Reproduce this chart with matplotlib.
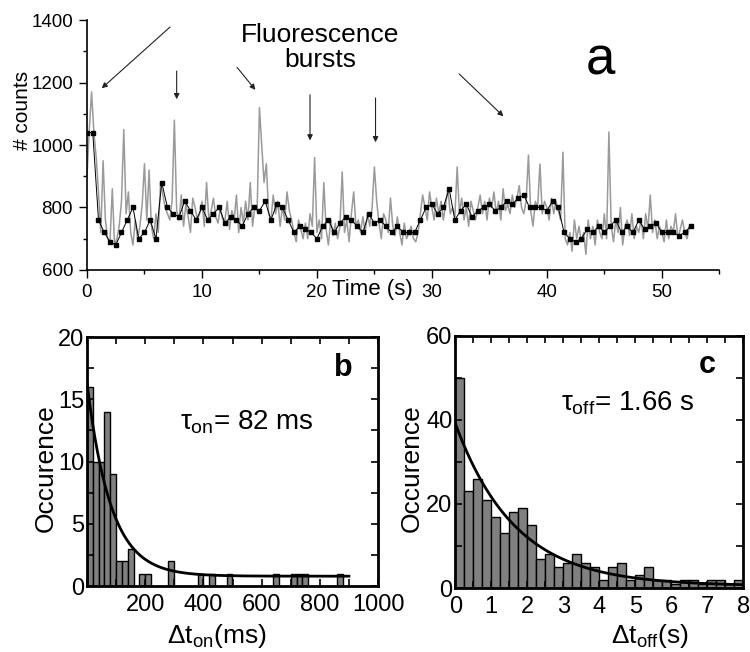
import numpy as np
import matplotlib
matplotlib.use('Agg')
import matplotlib.pyplot as plt
from matplotlib.ticker import MultipleLocator

plt.rcParams['font.family'] = ['Liberation Sans', 'DejaVu Sans']
plt.rcParams['mathtext.fontset'] = 'custom'
plt.rcParams['mathtext.rm'] = 'Liberation Sans'
plt.rcParams['mathtext.it'] = 'Liberation Sans'

# --- panel a: intensity trace (counts per bin) ---
trace_dt = 0.2
trace_gray = [
    900, 1050, 1170, 1040, 960, 850, 720, 950, 760, 700,
    690, 860, 680, 700, 740, 820, 1050, 780, 850, 720,
    680, 760, 700, 740, 810, 940, 760, 920, 740, 700,
    780, 720, 880, 840, 800, 780, 760, 820, 1080, 790,
    760, 840, 740, 810, 770, 720, 830, 800, 760, 780,
    820, 740, 880, 760, 790, 830, 770, 750, 800, 760,
    760, 820, 730, 790, 760, 840, 720, 800, 750, 820,
    760, 880, 740, 800, 790, 1120, 1000, 880, 940, 780,
    760, 840, 780, 820, 740, 800, 760, 850, 790, 760,
    720, 690, 760, 730, 700, 750, 700, 780, 740, 960,
    720, 760, 700, 880, 730, 680, 760, 710, 750, 700,
    740, 914, 720, 760, 690, 780, 850, 740, 760, 720,
    770, 720, 780, 740, 800, 930, 820, 750, 700, 780,
    760, 720, 830, 740, 710, 770, 720, 680, 750, 700,
    720, 740, 700, 690, 720, 780, 840, 800, 760, 850,
    800, 760, 830, 780, 820, 760, 810, 860, 780, 800,
    770, 930, 780, 830, 760, 800, 740, 820, 790, 760,
    800, 840, 780, 820, 760, 830, 800, 850, 780, 820,
    760, 860, 790, 810, 780, 840, 800, 830, 870, 800,
    780, 820, 968, 790, 740, 820, 800, 939, 780, 820,
    800, 760, 830, 780, 820, 790, 760, 977, 700, 680,
    720, 660, 760, 700, 740, 690, 720, 650, 760, 700,
    740, 680, 760, 720, 700, 780, 700, 1042, 740, 690,
    760, 720, 800, 680, 740, 760, 710, 780, 700, 740,
    720, 760, 700, 780, 730, 840, 720, 760, 700, 740,
    720, 690, 760, 700, 740, 720, 780, 700, 730, 760,
    720, 700, 740,
]
binned_dt = 0.5
trace_black = [
    1040, 1040, 760, 720, 690, 680, 720, 760, 800, 700,
    720, 760, 700, 880, 800, 780, 770, 820, 790, 760,
    800, 760, 780, 800, 750, 770, 760, 740, 780, 800,
    790, 820, 760, 810, 800, 760, 720, 740, 730, 720,
    700, 740, 760, 720, 750, 770, 760, 740, 720, 780,
    750, 760, 740, 720, 740, 720, 720, 720, 760, 800,
    810, 780, 800, 860, 760, 790, 810, 770, 790, 800,
    810, 790, 800, 820, 810, 830, 840, 800, 800, 800,
    790, 820, 800, 720, 700, 690, 700, 730, 720, 740,
    720, 740, 760, 720, 740, 720, 760, 730, 740, 750,
    720, 720, 720, 710, 720, 740,
]
# arrows: (tail x, tail y, head x, head y) in data units
burst_arrows = [
    (7.4, 1384, 1.1, 1176),
    (7.8, 1246, 7.8, 1138),
    (12.9, 1256, 14.8, 1170),
    (19.4, 1170, 19.4, 1006),
    (25.1, 1160, 25.1, 1000),
    (32.2, 1234, 36.4, 1086),
]

# --- panel b: on-time histogram ---
on_left = [0, 20, 40, 60, 80, 100, 120, 140, 180, 200, 280, 380, 420, 480, 640, 700, 720, 740, 860]
on_count = [16, 10, 10, 14, 9, 2, 2, 3, 1, 1, 2, 1, 1, 1, 1, 1, 1, 1, 1]
on_width = 20
tau_on, amp_on, base_on = 82.0, 15.5, 0.8

# --- panel c: off-time histogram ---
off_width = 0.25
off_count = [50, 23, 26, 21, 17, 13, 18, 19, 15, 7, 8, 5, 6, 8, 6, 5,
             2, 5, 6, 2, 3, 5, 2, 2, 1, 2, 2, 1, 2, 2, 1, 2]
tau_off, amp_off, base_off = 1.66, 38.7, 0.5

fig = plt.figure(figsize=(7.5, 6.52), dpi=100)

# ---------------- panel a ----------------
axa = fig.add_axes([0.116, 0.586, 0.843, 0.383])
t_gray = np.arange(len(trace_gray)) * trace_dt
t_black = np.arange(len(trace_black)) * binned_dt
axa.plot(t_gray, trace_gray, color='#9a9a9a', lw=1.1)
axa.plot(t_black, trace_black, color='black', lw=0.7, marker='s', ms=3.5)
axa.set_xlim(0, 55)
axa.set_ylim(600, 1400)
axa.spines['top'].set_visible(False)
axa.spines['right'].set_visible(False)
for s in ('left', 'bottom'):
    axa.spines[s].set_linewidth(1.2)
axa.xaxis.set_major_locator(MultipleLocator(10))
axa.xaxis.set_minor_locator(MultipleLocator(5))
axa.yaxis.set_major_locator(MultipleLocator(200))
axa.yaxis.set_minor_locator(MultipleLocator(100))
axa.tick_params(which='major', direction='out', length=6, width=1, labelsize=13.5, pad=4)
axa.tick_params(which='minor', direction='out', length=3, width=1)
for x0, y0, x1, y1 in burst_arrows:
    axa.annotate('', xy=(x1, y1), xytext=(x0, y0),
                 arrowprops=dict(arrowstyle='-|>', lw=0.8, color='#222222', mutation_scale=8))
axa.text(20.3, 1312, 'Fluorescence\nbursts', ha='center', va='center', fontsize=19, linespacing=1.05)
axa.text(44.7, 1272, 'a', ha='center', va='center', fontsize=38)
fig.text(332 / 750, 1 - 289 / 652, 'Time (s)', ha='left', va='center', fontsize=16)
fig.text(22 / 750, 1 - 110 / 652, '# counts', rotation=90, ha='center', va='center', fontsize=15)

# ---------------- panel b ----------------
axb = fig.add_axes([0.116, 0.101, 0.388, 0.382])
axb.bar(on_left, on_count, width=on_width, align='edge', color='#808080', edgecolor='black', lw=1.0)
xf = np.linspace(0, 900, 300)
axb.plot(xf, base_on + amp_on * np.exp(-xf / tau_on), color='black', lw=2)
axb.set_xlim(0, 1000)
axb.set_ylim(0, 20)
axb.set_xticks([200, 400, 600, 800, 1000])
axb.xaxis.set_minor_locator(MultipleLocator(100))
axb.yaxis.set_major_locator(MultipleLocator(5))
axb.yaxis.set_minor_locator(MultipleLocator(2.5))
axb.text(880, 17.5, 'b', ha='center', va='center', fontsize=22, fontweight='bold')
axb.text(320, 13.2, r'$\tau_{\mathrm{on}}$= 82 ms', ha='left', va='center', fontsize=20)
fig.text(217 / 750, 1 - 643 / 652, r'Δt$_{\mathrm{on}}$(ms)', ha='center', va='baseline', fontsize=19)
fig.text(46 / 750, 1 - 468 / 652, 'Occurence', rotation=90, ha='center', va='center', fontsize=19)

# ---------------- panel c ----------------
axc = fig.add_axes([0.607, 0.098, 0.384, 0.387])
off_left = np.arange(len(off_count)) * off_width
axc.bar(off_left, off_count, width=off_width, align='edge', color='#808080', edgecolor='black', lw=1.0)
xf = np.linspace(0, 8, 300)
axc.plot(xf, base_off + amp_off * np.exp(-xf / tau_off), color='black', lw=2)
axc.set_xlim(0, 8)
axc.set_ylim(0, 60)
axc.xaxis.set_major_locator(MultipleLocator(1))
axc.xaxis.set_minor_locator(MultipleLocator(0.5))
axc.yaxis.set_major_locator(MultipleLocator(20))
axc.yaxis.set_minor_locator(MultipleLocator(10))
axc.text(7.0, 53, 'c', ha='center', va='center', fontsize=22, fontweight='bold')
axc.text(2.95, 44, r'$\tau_{\mathrm{off}}$= 1.66 s', ha='left', va='center', fontsize=20)
fig.text(650 / 750, 1 - 643 / 652, r'Δt$_{\mathrm{off}}$(s)', ha='center', va='baseline', fontsize=19)
fig.text(412 / 750, 1 - 468 / 652, 'Occurence', rotation=90, ha='center', va='center', fontsize=19)

for ax in (axb, axc):
    for s in ax.spines.values():
        s.set_linewidth(2)
    ax.tick_params(which='both', direction='in', top=True, right=True, width=1.2)
    ax.tick_params(which='major', length=5, labelsize=17, pad=2)
    ax.tick_params(which='minor', length=5)
    ax.tick_params(axis='x', pad=6)

fig.savefig('out.png', dpi=100)
